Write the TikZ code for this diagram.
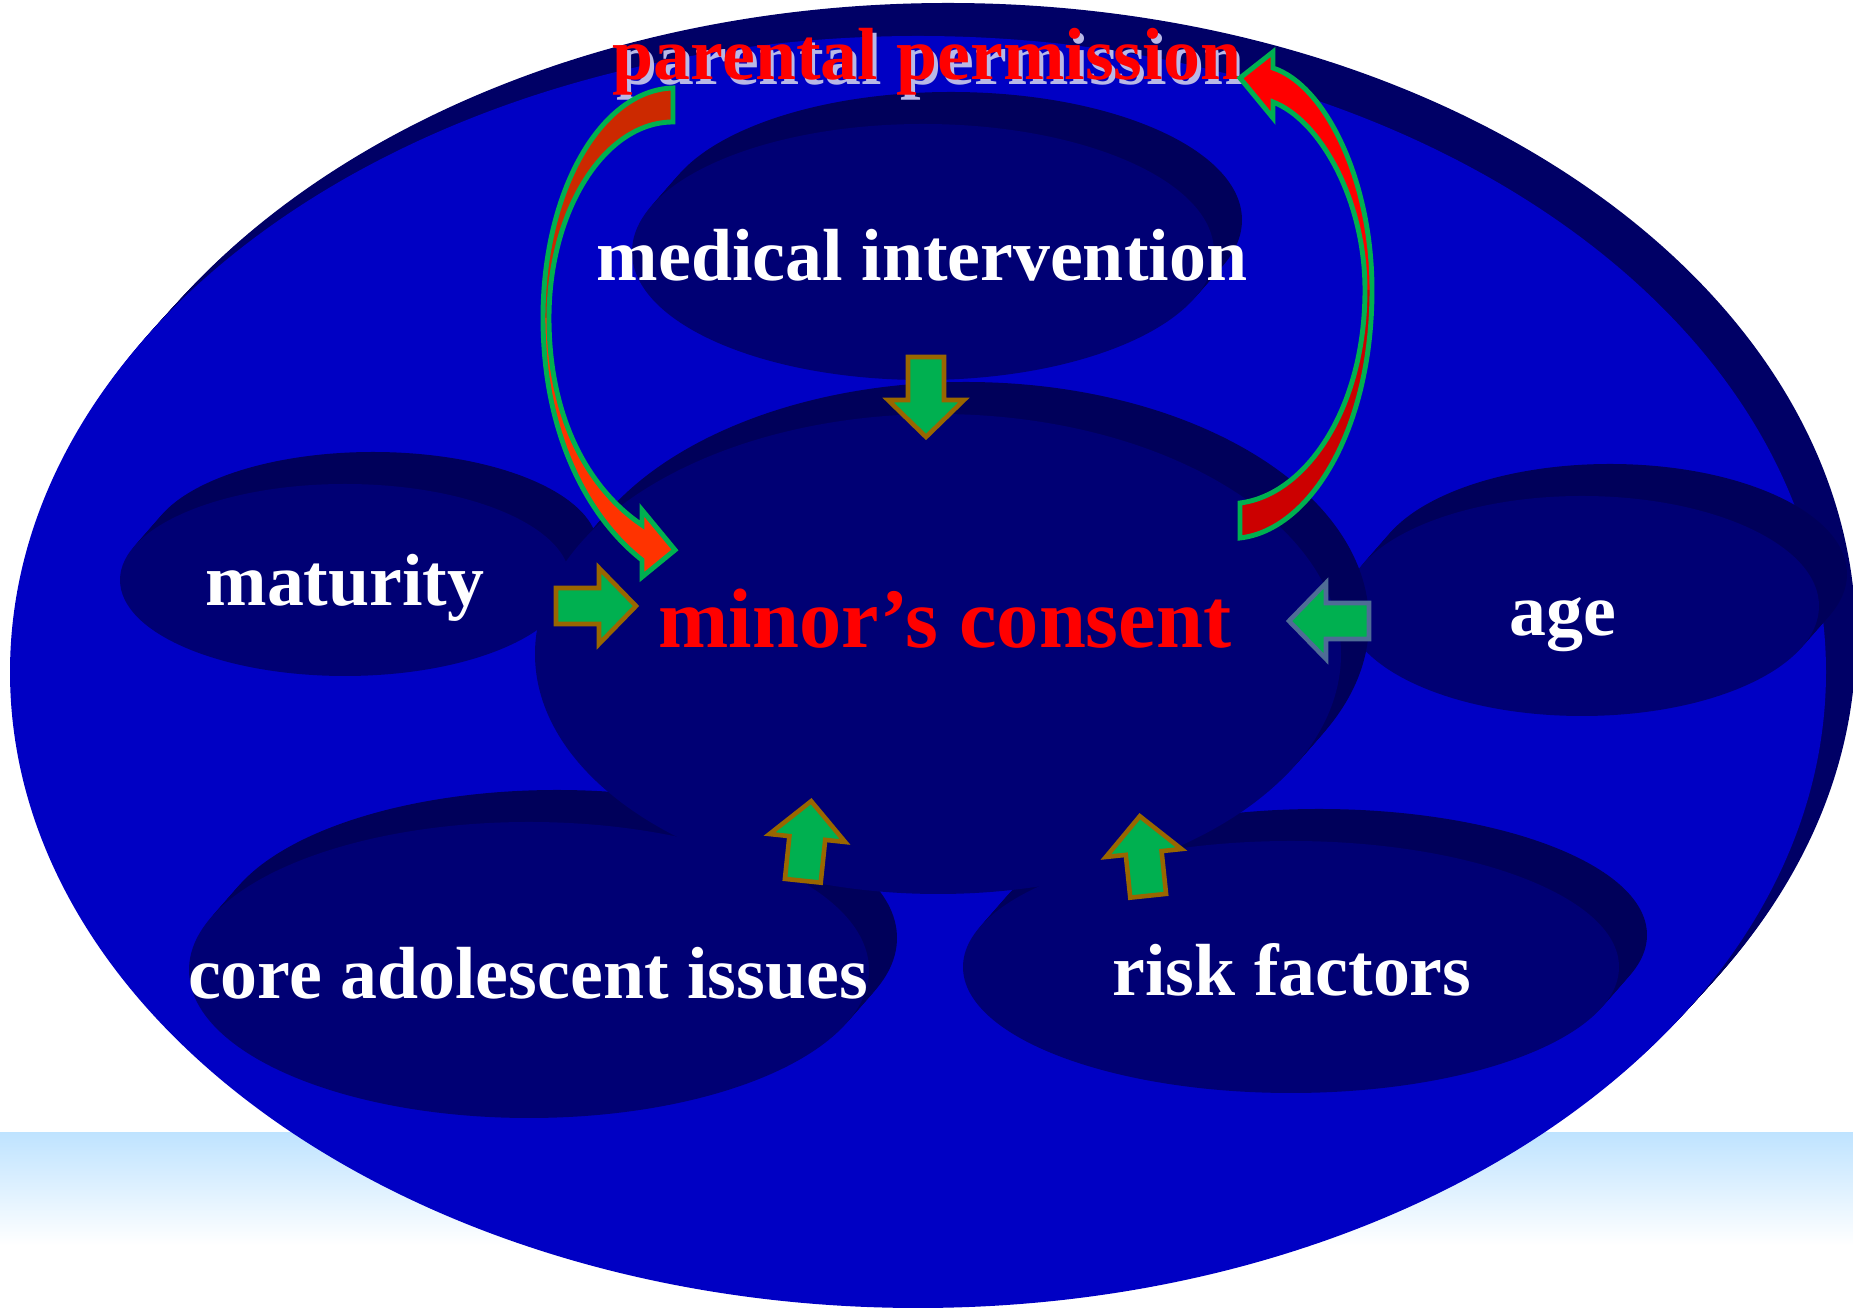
\documentclass[tikz,border=0pt]{standalone}
\usepackage{fontspec}
\setmainfont{Liberation Serif}
\usetikzlibrary{positioning}
\definecolor{outerblue}{HTML}{0000C4}
\definecolor{outerrim}{HTML}{000066}
\definecolor{bubble}{HTML}{000074}
\definecolor{bubblerim}{HTML}{00005A}
\definecolor{haze}{HTML}{BFE3FF}
\definecolor{fatgreen}{HTML}{00B050}
\definecolor{fatbrown}{HTML}{996600}
\definecolor{fatslate}{HTML}{4F6C96}
\definecolor{loopdark}{HTML}{CC2900}
\definecolor{looplight}{HTML}{FF3300}
\definecolor{loopred}{HTML}{FF0000}
\definecolor{loopdeep}{HTML}{CC0000}
\definecolor{loopgreen}{HTML}{00B050}
\definecolor{permshade}{HTML}{B8B8E6}
\tikzset{
  whiteword/.style = {text=white, font=\fontsize{21}{25}\selectfont\bfseries, inner sep=0pt, anchor=base},
  redword/.style   = {text=red, font=\fontsize{21}{25}\selectfont\bfseries, inner sep=0pt, anchor=base},
  loopedge/.style  = {draw=loopgreen, line width=1.4pt},
  pics/fatarrow/.style = {code={
    \draw[draw=#1, fill=fatgreen, line width=1.3pt]
      (-40,-18) -- (3,-18) -- (3,-38) -- (40,0) -- (3,38) -- (3,18) -- (-40,18) -- cycle;
  }},
}

\begin{document}
\begin{tikzpicture}[x=0.01cm, y=-0.01cm]

  \fill[white] (0,0) rectangle (1853,1310);
  \useasboundingbox (0,0) rectangle (1853,1310);
  \shade[top color=haze, bottom color=white] (0,1133) rectangle (1853,1245);

  % outer disc
  \foreach \k in {1,...,12}
    \fill[outerrim] ({918+2.5*\k},{672-2.75*\k}) ellipse [x radius=908, y radius=636];
  \fill[outerblue] (918,672) ellipse [x radius=908, y radius=636];

  % bubbles
  \foreach \cx/\cy/\rx/\ry in {923/252/291/128, 345/580/225/96, 1582/606/237/110,
                               529/970/340/148, 1291/967/328/126, 938/654/403/240} {
    \foreach \k in {1,...,8}
      \fill[bubblerim] ({\cx+3.5*\k},{\cy-4*\k}) ellipse [x radius=\rx, y radius=\ry];
    \fill[bubble] (\cx,\cy) ellipse [x radius=\rx, y radius=\ry];
  }

  % words
  \node[redword] (permission) at (927,80)
    {\rlap{\kern1.1pt\raisebox{-1.4pt}{\color{permshade}parental permission}}parental permission};
  \node[whiteword] (medical) at (922,281) {medical intervention};
  \node[whiteword] (maturity) at (345,606) {maturity};
  \node[redword, font=\fontsize{24}{28}\selectfont\bfseries] (consent) at (945,648) {minor’s consent};
  \node[whiteword] (age) at (1563,636) {age};
  \node[whiteword] (core) at (528,999) {core adolescent issues};
  \node[whiteword] (risk) at (1292,996) {risk factors};

  % block arrows into the centre
  \pic[rotate=-90] at (926,397) {fatarrow=fatbrown};
  \pic at (596,606) {fatarrow=fatbrown};
  \pic[rotate=180] at (1329,621) {fatarrow=fatslate};
  \pic[rotate=84] at (807,841) {fatarrow=fatbrown};
  \pic[rotate=96] at (1144,856) {fatarrow=fatbrown};

  % left loop
  \fill[loopdark] (673,88) .. controls (601,90) and (543,191) .. (543,318)
    -- (549,318) .. controls (549,210) and (605,122) .. (673,122) -- cycle;
  \fill[looplight] (543,318) .. controls (543,430) and (585,515) .. (642,560)
    -- (642,577) -- (675,550) -- (642,510) -- (642,525)
    .. controls (590,490) and (549,420) .. (549,318) -- cycle;
  \draw[loopedge] (673,88) .. controls (601,90) and (543,191) .. (543,318)
    .. controls (543,430) and (585,515) .. (642,560)
    -- (642,577) -- (675,550) -- (642,510) -- (642,525)
    .. controls (590,490) and (549,420) .. (549,318)
    .. controls (549,210) and (605,122) .. (673,122) -- cycle;

  % right loop
  \fill[loopred] (1273,68) .. controls (1325,85) and (1372,180) .. (1372,290)
    -- (1365,290) .. controls (1365,200) and (1320,120) .. (1273,102)
    -- (1273,118) -- (1240,78) -- (1273,52) -- cycle;
  \fill[loopdeep] (1372,290) .. controls (1372,430) and (1310,530) .. (1240,538)
    -- (1240,503) .. controls (1305,495) and (1365,410) .. (1365,290) -- cycle;
  \draw[loopedge] (1273,68) .. controls (1325,85) and (1372,180) .. (1372,290)
    .. controls (1372,430) and (1310,530) .. (1240,538) -- (1240,503)
    .. controls (1305,495) and (1365,410) .. (1365,290)
    .. controls (1365,200) and (1320,120) .. (1273,102)
    -- (1273,118) -- (1240,78) -- (1273,52) -- cycle;

\end{tikzpicture}
\end{document}
